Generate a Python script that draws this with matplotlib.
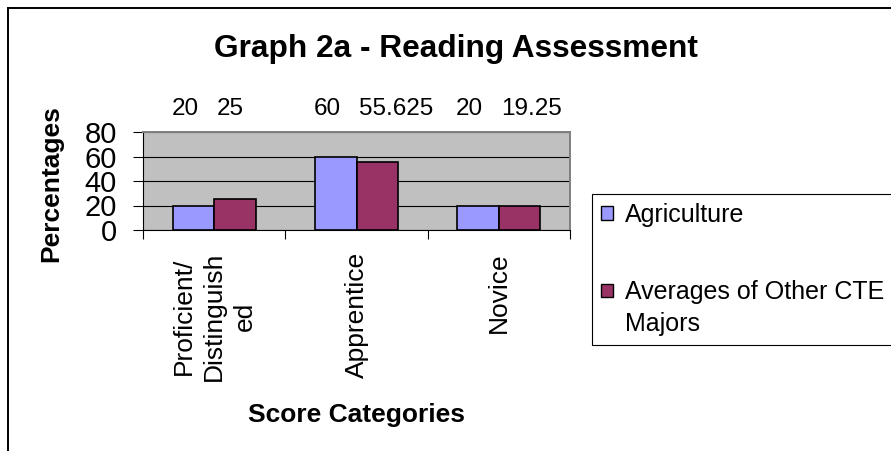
import matplotlib
matplotlib.use("Agg")
import numpy as np
import matplotlib.pyplot as plt
import matplotlib.transforms as mtransforms
from matplotlib.lines import Line2D
from matplotlib.patches import Rectangle
from matplotlib.legend_handler import HandlerPatch

# data
categories = ["Proficient/\nDistinguish\ned", "Apprentice", "Novice"]
series_names = ["Agriculture", "Averages of Other CTE\nMajors"]
agriculture = [20, 60, 20]
other_cte = [25, 55.625, 19.25]
y_ticks = [0, 20, 40, 60, 80]

plt.rcParams['font.family'] = ['Liberation Sans', 'DejaVu Sans']

W, H = 891, 451
fig = plt.figure(figsize=(W / 100, H / 100), dpi=100)
# plot area in pixel terms: x 143..570, y 132..230
ax = fig.add_axes([143 / W, 1 - 230 / H, 427 / W, 98 / H])
ax.set_facecolor('#C0C0C0')

x = np.arange(len(categories)) + 0.5
w = 0.292
bars1 = ax.bar(x - w / 2, agriculture, w, color='#9999FF', edgecolor='black',
               linewidth=1.2, zorder=3)
bars2 = ax.bar(x + w / 2, other_cte, w, color='#993366', edgecolor='black',
               linewidth=1.2, zorder=3)

ax.set_xlim(0, len(categories))
ax.set_ylim(0, 80)
ax.set_yticks(y_ticks)
ax.yaxis.grid(True, color='black', linewidth=0.8)
ax.set_axisbelow(True)
ax.tick_params(axis='y', length=7.2, width=0.8, pad=11.5, labelsize=21)

ax.set_xticks(x, categories)
ax.set_xticks(np.arange(len(categories) + 1), minor=True)
ax.tick_params(axis='x', which='major', length=0, pad=15.8, labelsize=19,
               labelrotation=90)
ax.tick_params(axis='x', which='minor', length=6.5, width=0.8)
for t in ax.get_xticklabels():
    t.set_multialignment('center')
    t.set_linespacing(1.35)

for s in ['top', 'right']:
    ax.spines[s].set_color('#808080')
    ax.spines[s].set_linewidth(1.4)
for s in ['left', 'bottom']:
    ax.spines[s].set_color('black')
    ax.spines[s].set_linewidth(0.8)

# value labels sit in a row above the plot area, pushed apart in each pair
trans = mtransforms.blended_transform_factory(ax.transData, ax.transAxes)
for bars, vals, dx, ha in [(bars1, agriculture, 5, 'right'),
                           (bars2, other_cte, -18, 'left')]:
    for b, v in zip(bars, vals):
        ax.annotate(f'{v:g}', xy=(b.get_x() + b.get_width() / 2, 1.173),
                    xycoords=trans, xytext=(dx, 0), textcoords='offset pixels',
                    ha=ha, va='baseline', fontsize=17.5)

ax.set_ylabel('Percentages', fontsize=19, fontweight='bold', va='center')
ax.yaxis.set_label_coords(-0.2155, 0.47)
ax.set_xlabel('Score Categories', fontsize=19, fontweight='bold', va='baseline')
ax.xaxis.set_label_coords(0.5, -1.956)

fig.text(456 / W, 1 - 57 / H, 'Graph 2a - Reading Assessment', ha='center',
         va='baseline', fontsize=22.8, fontweight='bold')


# legend: square next to the first line of a two-line label
def raised(legend, orig_handle, xdescent, ydescent, width, height, fontsize):
    return Rectangle((-xdescent, -ydescent + 0.72 * fontsize), width, height)


h1 = Rectangle((0, 0), 1, 1, facecolor='#9999FF', edgecolor='black', linewidth=1)
h2 = Rectangle((0, 0), 1, 1, facecolor='#993366', edgecolor='black', linewidth=1)
leg = fig.legend([h1, h2], series_names, loc='upper left',
                 bbox_to_anchor=(592 / W, 1 - 194 / H), borderaxespad=0,
                 fancybox=False, framealpha=1, edgecolor='black', fontsize=18,
                 handlelength=0.47, handleheight=0.47, handletextpad=0.47,
                 borderpad=0.37, labelspacing=2.1,
                 handler_map={h2: HandlerPatch(patch_func=raised)})
leg.get_frame().set_linewidth(0.8)
for t in leg.get_texts():
    t.set_linespacing(1.43)

# chart area border (runs off the right and bottom edges)
fig.add_artist(Line2D([7.5 / W, 7.5 / W], [0, 1 - 7.5 / H], color='black', lw=1.4))
fig.add_artist(Line2D([7.5 / W, 1], [1 - 7.5 / H, 1 - 7.5 / H], color='black', lw=1.4))

fig.savefig('out.png', dpi=100)
